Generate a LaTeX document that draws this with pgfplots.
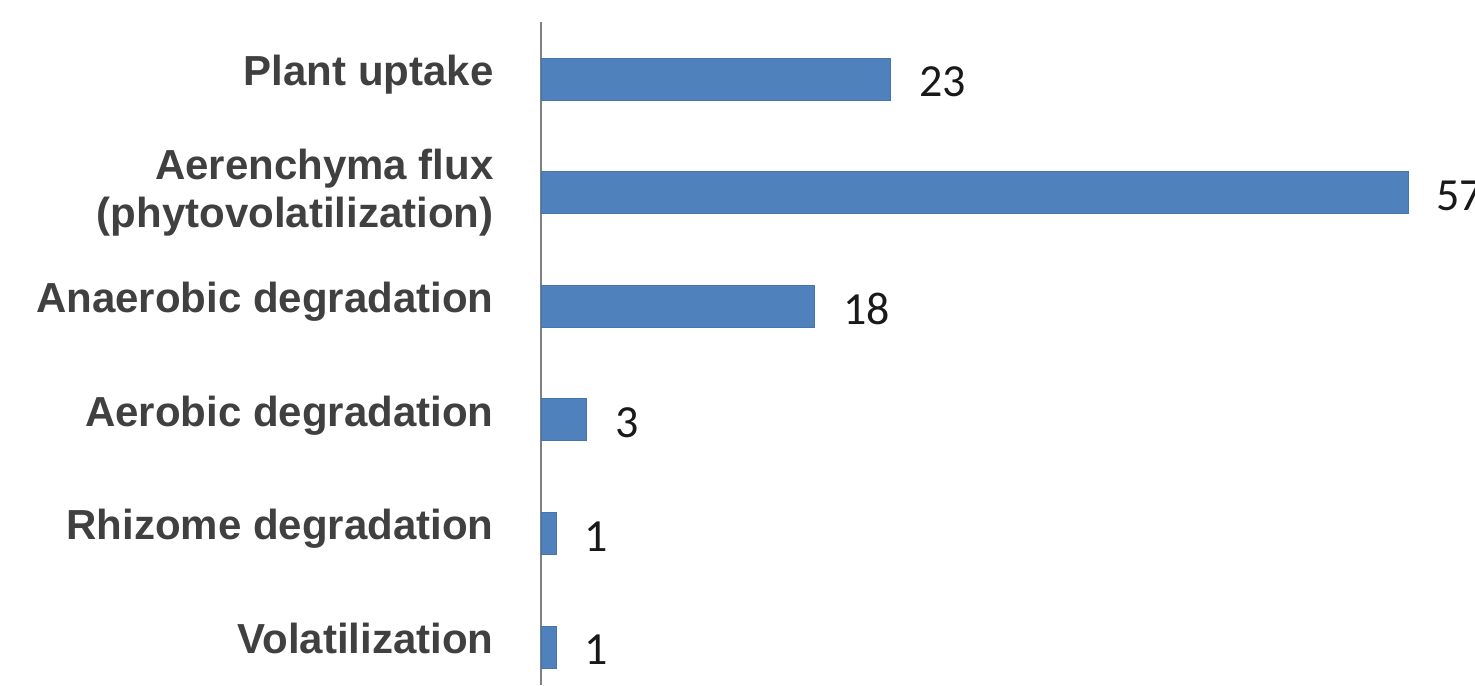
\documentclass[border=0pt]{standalone}
\usepackage{pgfplots}
\pgfplotsset{compat=1.18}
\usepackage{fontspec}
\setmainfont{Liberation Sans}
\newfontfamily\valfont{Carlito}
\definecolor{barblue}{HTML}{4F81BD}
\definecolor{labelgray}{HTML}{404040}
\definecolor{axisgray}{HTML}{808080}
\begin{document}
\begin{tikzpicture}
\path[use as bounding box] (-270.5pt,0pt) rectangle (467pt,342.5pt);
\clip (-270.5pt,0pt) rectangle (467pt,342.5pt);
\begin{axis}[
  at={(0pt,0pt)}, anchor=south west,
  scale only axis,
  width=467pt, height=331.5pt,
  xmin=0, xmax=61.4,
  ymin=-0.3345, ymax=5.502,
  xbar, bar width=21pt,
  axis x line=none,
  axis y line*=left,
  y axis line style={-, draw=axisgray, line width=1pt},
  xtick=\empty,
  ytick={0,1,2,3,4,5},
  major tick length=0pt,
  yticklabels={Volatilization, Rhizome degradation, Aerobic degradation, Anaerobic degradation,
    {\raisebox{-2.5pt}{\begin{tabular}{@{}r@{}}Aerenchyma flux\\(phytovolatilization)\end{tabular}}},
    Plant uptake},
  yticklabel style={font=\fontsize{21}{24}\selectfont\bfseries, text=labelgray,
    anchor=east, inner sep=0pt, xshift=-23.5pt, yshift=-0.5pt,
    text height=0.73em, text depth=0.21em},
  /pgf/number format/assume math mode=true,
  nodes near coords,
  every node near coord/.append style={font=\valfont\fontsize{23}{26}\selectfont,
    text=black!90, anchor=west, inner sep=0pt, xshift=14pt, yshift=-1.5pt},
  clip=false,
]
\addplot[fill=barblue, draw=barblue!90!black, line width=0.4pt] coordinates {
  (1,0) (1,1) (3,2) (18,3) (57,4) (23,5)
};
\end{axis}
\end{tikzpicture}
\end{document}
